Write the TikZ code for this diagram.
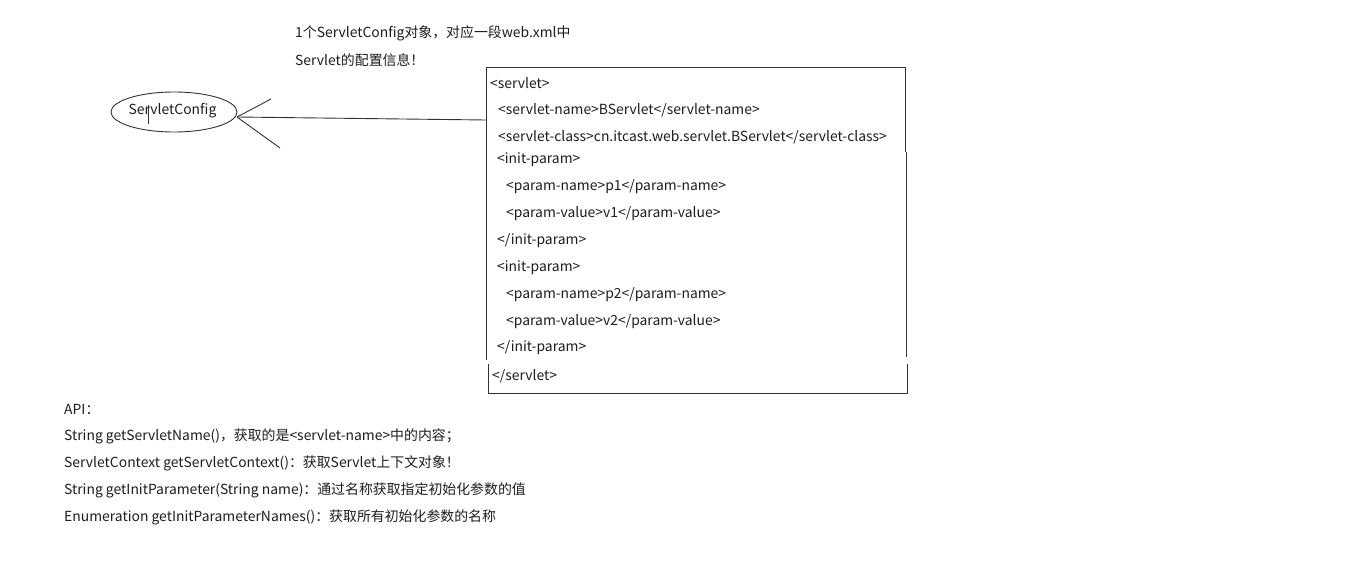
\documentclass[tikz,border=0pt]{standalone}
\usepackage{fontspec}
\usetikzlibrary{shapes.geometric}
\setmainfont{Noto Sans CJK SC}
\definecolor{txt}{HTML}{1E1E1E}
\definecolor{ln}{HTML}{333333}
\tikzset{
  t/.style={anchor=west, inner sep=0pt, text=txt, font=\fontsize{13.9}{15}\selectfont},
  edge/.style={draw=ln, line width=0.9pt},
}
\begin{document}
\begin{tikzpicture}[x=1pt,y=-1pt]
\useasboundingbox[fill=white] (0,0) rectangle (1346,565);
% ellipse
\node[draw=ln, line width=0.9pt, ellipse, minimum width=126pt, minimum height=40pt, inner sep=0pt] (sc) at (174,112) {};
\node[t, anchor=center] (sct) at (172.5,111) {ServletConfig};
\draw[ln, line width=0.7pt] (148,105) -- (148,124);
% fork lines
\coordinate (fk) at (237,117);
\coordinate (fa) at (271,99);
\coordinate (fb) at (280,148);
\coordinate (bl) at (486,120);
\draw[edge] (fk) -- (fa);
\draw[edge] (fk) -- (fb);
\draw[edge] (fk) -- (bl);
% box
\coordinate (b1) at (486,67);
\coordinate (b2) at (905.7,67);
\coordinate (b3) at (905.7,152);
\coordinate (b4) at (906.5,152);
\coordinate (b5) at (906.5,357);
\coordinate (b6) at (486,360);
\coordinate (b7) at (488,364);
\coordinate (b8) at (488,393);
\coordinate (b9) at (907.7,393);
\coordinate (b10) at (907.7,364);
\draw[edge] (b6) -- (b1) -- (b2) -- (b3);
\draw[edge] (b4) -- (b5);
\draw[edge] (b7) -- (b8) -- (b9) -- (b10);
% top text
\node[t] (top1) at (295,33) {1个ServletConfig对象，对应一段web.xml中};
\node[t] (top2) at (295,60) {Servlet的配置信息！};
% xml
\node[t] (x1) at (490,83) {<servlet>};
\node[t] (x2) at (498,110) {<servlet-name>BServlet</servlet-name>};
\node[t] (x3) at (498,137) {<servlet-class>cn.itcast.web.servlet.BServlet</servlet-class>};
\node[t] (x4) at (497,160) {<init-param>};
\node[t] (x5) at (506,187) {<param-name>p1</param-name>};
\node[t] (x6) at (506,214) {<param-value>v1</param-value>};
\node[t] (x7) at (497,241) {</init-param>};
\node[t] (x8) at (497,268) {<init-param>};
\node[t] (x9) at (506,295) {<param-name>p2</param-name>};
\node[t] (x10) at (506,322) {<param-value>v2</param-value>};
\node[t] (x11) at (497,348) {</init-param>};
\node[t] (x12) at (492,376) {</servlet>};
% API
\node[t] (a0) at (64,409) {API：};
\node[t] (a1) at (64,436) {String getServletName()，获取的是<servlet-name>中的内容；};
\node[t] (a2) at (64,463) {ServletContext getServletContext()：获取Servlet上下文对象！};
\node[t] (a3) at (64,490) {String getInitParameter(String name)：通过名称获取指定初始化参数的值};
\node[t] (a4) at (64,517) {Enumeration getInitParameterNames()：获取所有初始化参数的名称};
\end{tikzpicture}
\end{document}
